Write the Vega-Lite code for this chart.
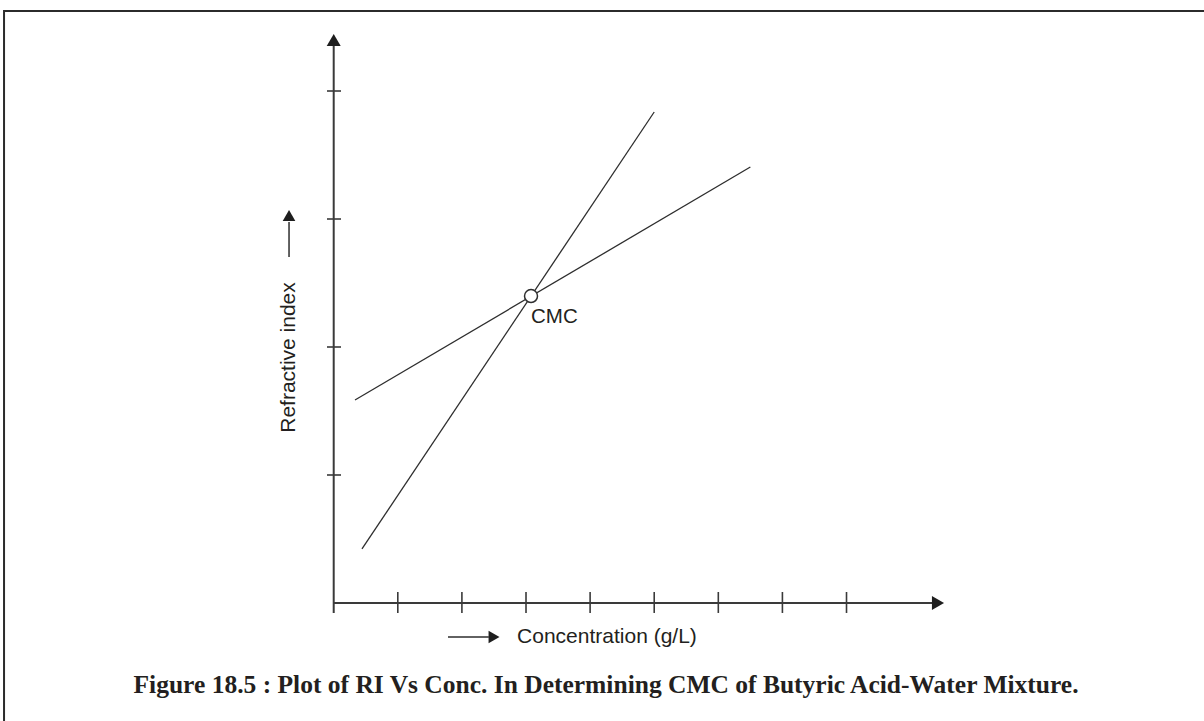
{
  "$schema": "https://vega.github.io/schema/vega-lite/v6.json",
  "width": 1204,
  "height": 721,
  "autosize": "none",
  "padding": 0,
  "background": "white",
  "config": {"view": {"stroke": null}},
  "datasets": {
    "frame": [{"x": -5.143, "y": 4.625, "x2": 14.5, "y2": -1.5}],
    "axes": [
      {"axis": "x", "x": 0, "y": 0, "x2": 9.334, "y2": 0},
      {"axis": "y", "x": 0, "y": -0.078, "x2": 0, "y2": 4.352}
    ],
    "ticks": [
      {"x": 1, "y": 0.086, "x2": 1, "y2": -0.078},
      {"x": 2, "y": 0.086, "x2": 2, "y2": -0.078},
      {"x": 3, "y": 0.086, "x2": 3, "y2": -0.078},
      {"x": 4, "y": 0.086, "x2": 4, "y2": -0.078},
      {"x": 5, "y": 0.086, "x2": 5, "y2": -0.078},
      {"x": 6, "y": 0.086, "x2": 6, "y2": -0.078},
      {"x": 7, "y": 0.086, "x2": 7, "y2": -0.078},
      {"x": 8, "y": 0.086, "x2": 8, "y2": -0.078},
      {"x": -0.105, "y": 1, "x2": 0.114, "y2": 1},
      {"x": -0.105, "y": 2, "x2": 0.114, "y2": 2},
      {"x": -0.105, "y": 3, "x2": 0.114, "y2": 3},
      {"x": -0.105, "y": 4, "x2": 0.114, "y2": 4}
    ],
    "lines": [
      {"series": "steep", "x": 0.441, "y": 0.422, "x2": 5.0, "y2": 3.836},
      {"series": "shallow", "x": 0.332, "y": 1.586, "x2": 6.5, "y2": 3.406}
    ],
    "shafts": [
      {"label": "Concentration", "x": 1.783, "y": -0.266, "x2": 2.42, "y2": -0.266},
      {"label": "Refractive index", "x": -0.697, "y": 2.703, "x2": -0.697, "y2": 2.977}
    ],
    "axisHeads": [
      {"dir": "right", "x": 9.427, "y": 0},
      {"dir": "up", "x": 0, "y": 4.398}
    ],
    "labelHeads": [
      {"dir": "right", "x": 2.501, "y": -0.266},
      {"dir": "up", "x": -0.697, "y": 3.027}
    ],
    "cmc": [{"x": 3.078, "y": 2.398, "label": "CMC"}],
    "cmcLabel": [{"x": 3.078, "y": 2.238, "label": "CMC"}],
    "xLabel": [{"x": 2.861, "y": -0.266, "label": "Concentration (g/L)"}],
    "yLabel": [{"x": -0.697, "y": 1.918, "label": "Refractive index"}],
    "caption": [{"x": 4.248, "y": -0.641, "label": "Figure 18.5 : Plot of RI Vs Conc. In Determining CMC of Butyric Acid-Water Mixture."}]
  },
  "encoding": {
    "x": {"field": "x", "type": "quantitative", "scale": {"domain": [-5.206, 13.577], "nice": false, "zero": false}, "axis": null},
    "y": {"field": "y", "type": "quantitative", "scale": {"domain": [-0.922, 4.711], "nice": false, "zero": false}, "axis": null}
  },
  "layer": [
    {
      "data": {"name": "frame"},
      "mark": {"type": "rect", "fill": null, "stroke": "#2b2b2b", "strokeWidth": 2, "clip": true},
      "encoding": {"x2": {"field": "x2"}, "y2": {"field": "y2"}}
    },
    {
      "data": {"name": "axes"},
      "mark": {"type": "rule", "color": "#3a3a3a", "strokeWidth": 2},
      "encoding": {"x2": {"field": "x2"}, "y2": {"field": "y2"}}
    },
    {
      "data": {"name": "ticks"},
      "mark": {"type": "rule", "color": "#3a3a3a", "strokeWidth": 1.6},
      "encoding": {"x2": {"field": "x2"}, "y2": {"field": "y2"}}
    },
    {
      "data": {"name": "lines"},
      "mark": {"type": "rule", "color": "#2e2e2e", "strokeWidth": 1.3},
      "encoding": {"x2": {"field": "x2"}, "y2": {"field": "y2"}}
    },
    {
      "data": {"name": "shafts"},
      "mark": {"type": "rule", "color": "#2e2e2e", "strokeWidth": 1.5},
      "encoding": {"x2": {"field": "x2"}, "y2": {"field": "y2"}}
    },
    {
      "data": {"name": "axisHeads"},
      "mark": {"type": "point", "filled": true, "color": "#1e1e1e", "size": 196, "opacity": 1},
      "encoding": {"shape": {"field": "dir", "type": "nominal", "scale": {"domain": ["up", "right"], "range": ["triangle-up", "triangle-right"]}, "legend": null}}
    },
    {
      "data": {"name": "labelHeads"},
      "mark": {"type": "point", "filled": true, "color": "#1e1e1e", "size": 160, "opacity": 1},
      "encoding": {"shape": {"field": "dir", "type": "nominal", "scale": {"domain": ["up", "right"], "range": ["triangle-up", "triangle-right"]}, "legend": null}}
    },
    {
      "data": {"name": "cmc"},
      "mark": {"type": "point", "shape": "circle", "filled": false, "fill": "white", "fillOpacity": 1, "stroke": "#2e2e2e", "strokeWidth": 1.5, "size": 169, "opacity": 1}
    },
    {
      "data": {"name": "cmcLabel"},
      "mark": {"type": "text", "font": "Liberation Sans", "fontSize": 20.5, "align": "left", "baseline": "middle", "color": "#231f20"},
      "encoding": {"text": {"field": "label"}}
    },
    {
      "data": {"name": "xLabel"},
      "mark": {"type": "text", "font": "Liberation Sans", "fontSize": 21, "align": "left", "baseline": "middle", "color": "#231f20"},
      "encoding": {"text": {"field": "label"}}
    },
    {
      "data": {"name": "yLabel"},
      "mark": {"type": "text", "font": "Liberation Sans", "fontSize": 21, "align": "center", "baseline": "middle", "angle": 270, "color": "#231f20"},
      "encoding": {"text": {"field": "label"}}
    },
    {
      "data": {"name": "caption"},
      "mark": {"type": "text", "font": "Liberation Serif", "fontWeight": "bold", "fontSize": 25.5, "align": "center", "baseline": "middle", "color": "#231f20"},
      "encoding": {"text": {"field": "label"}}
    }
  ]
}
